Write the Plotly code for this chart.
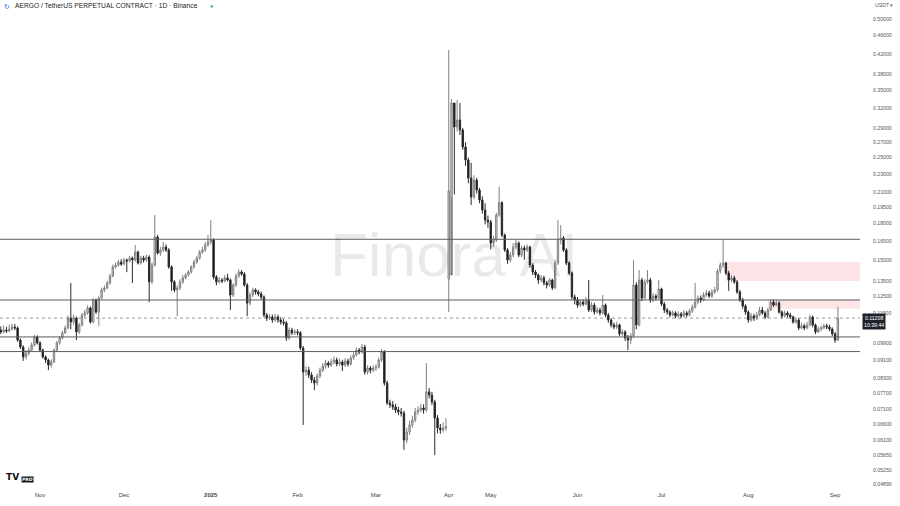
import numpy as np
import pandas as pd
import plotly.graph_objects as go

# ---------------- data ----------------
dates_a = pd.date_range("2024-10-18", "2025-03-26", freq="D")
dates_b = pd.date_range("2025-04-16", "2025-09-02", freq="D")
dates = [d.strftime("%Y-%m-%d") for d in list(dates_a) + list(dates_b)]

closes = [
    0.1046, 0.1056, 0.1051, 0.1061, 0.1072, 0.1067, 0.1004, 0.0970, 0.0923, 0.0941,
    0.0955, 0.0980, 0.1020, 0.0990, 0.0955, 0.0923, 0.0909, 0.0886, 0.0900, 0.0955,
    0.0990, 0.1015, 0.1041, 0.1067, 0.1121, 0.1099, 0.1121, 0.1046, 0.1083, 0.1138,
    0.1150, 0.1179, 0.1099, 0.1227, 0.1155, 0.1239, 0.1290, 0.1303, 0.1336, 0.1383,
    0.1447, 0.1461, 0.1483, 0.1468, 0.1498, 0.1491, 0.1513, 0.1498, 0.1559, 0.1476,
    0.1513, 0.1498, 0.1521, 0.1343, 0.1461, 0.1681, 0.1551, 0.1575, 0.1599, 0.1575,
    0.1447, 0.1343, 0.1290, 0.1303, 0.1343, 0.1370, 0.1390, 0.1411, 0.1447, 0.1483,
    0.1513, 0.1559, 0.1575, 0.1615, 0.1640, 0.1656, 0.1376, 0.1343, 0.1356, 0.1349,
    0.1370, 0.1356, 0.1258, 0.1322, 0.1383, 0.1411, 0.1397, 0.1322, 0.1208, 0.1258,
    0.1290, 0.1277, 0.1264, 0.1245, 0.1138, 0.1121, 0.1127, 0.1110, 0.1127, 0.1110,
    0.1099, 0.1094, 0.1015, 0.1056, 0.1041, 0.1046, 0.1041, 0.0965, 0.0856, 0.0864,
    0.0843, 0.0822, 0.0810, 0.0839, 0.0864, 0.0882, 0.0895, 0.0886, 0.0900, 0.0909,
    0.0891, 0.0900, 0.0886, 0.0904, 0.0891, 0.0918, 0.0932, 0.0955, 0.0946, 0.0970,
    0.0856, 0.0873, 0.0864, 0.0873, 0.0877, 0.0909, 0.0946, 0.0810, 0.0733, 0.0726,
    0.0719, 0.0708, 0.0701, 0.0697, 0.0609, 0.0634, 0.0657, 0.0673, 0.0701, 0.0708,
    0.0715, 0.0708, 0.0775, 0.0763, 0.0737, 0.0680, 0.0647, 0.0641, 0.0647, 0.0651,
    # second segment (from 2025-04-16)
    0.2117, 0.3285, 0.2914, 0.3018, 0.2870, 0.2637, 0.2470, 0.2257, 0.2053, 0.2235,
    0.2126, 0.2022, 0.1924, 0.1830, 0.1812, 0.1631, 0.1656, 0.1876, 0.1996, 0.1698,
    0.1575, 0.1498, 0.1536, 0.1599, 0.1631, 0.1536, 0.1591, 0.1575, 0.1599, 0.1461,
    0.1411, 0.1390, 0.1356, 0.1370, 0.1336, 0.1322, 0.1356, 0.1303, 0.1476, 0.1656,
    0.1673, 0.1575, 0.1476, 0.1404, 0.1245, 0.1227, 0.1196, 0.1214, 0.1202, 0.1227,
    0.1167, 0.1196, 0.1155, 0.1167, 0.1150, 0.1196, 0.1138, 0.1110, 0.1083, 0.1072,
    0.1083, 0.1036, 0.1046, 0.1015, 0.1004, 0.1025, 0.1322, 0.1083, 0.1356, 0.1239,
    0.1343, 0.1356, 0.1227, 0.1251, 0.1239, 0.1296, 0.1202, 0.1167, 0.1155, 0.1138,
    0.1150, 0.1132, 0.1144, 0.1132, 0.1150, 0.1138, 0.1161, 0.1184, 0.1214, 0.1239,
    0.1227, 0.1258, 0.1270, 0.1251, 0.1277, 0.1290, 0.1418, 0.1461, 0.1476, 0.1404,
    0.1356, 0.1370, 0.1343, 0.1277, 0.1227, 0.1190, 0.1155, 0.1110, 0.1132, 0.1121,
    0.1138, 0.1167, 0.1150, 0.1127, 0.1167, 0.1214, 0.1196, 0.1208, 0.1155, 0.1132,
    0.1150, 0.1138, 0.1127, 0.1099, 0.1110, 0.1067, 0.1078, 0.1067, 0.1083, 0.1127,
    0.1083, 0.1046, 0.1061, 0.1067, 0.1078, 0.1072, 0.1061, 0.1036, 0.1004, 0.11208,
]

highs = [
    0.1075, 0.1080, 0.1072, 0.1085, 0.1090, 0.1088, 0.1075, 0.1012, 0.0978, 0.0955,
    0.0968, 0.0992, 0.1030, 0.1028, 0.0998, 0.0962, 0.0930, 0.0915, 0.0912, 0.0962,
    0.1000, 0.1025, 0.1052, 0.1080, 0.1135, 0.1336, 0.1140, 0.1130, 0.1095, 0.1150,
    0.1168, 0.1195, 0.1188, 0.1240, 0.1235, 0.1250, 0.1305, 0.1320, 0.1350, 0.1400,
    0.1465, 0.1480, 0.1500, 0.1505, 0.1515, 0.1510, 0.1530, 0.1525, 0.1615, 0.1570,
    0.1530, 0.1530, 0.1540, 0.1535, 0.1480, 0.1876, 0.1700, 0.1600, 0.1640, 0.1620,
    0.1590, 0.1460, 0.1355, 0.1320, 0.1360, 0.1390, 0.1405, 0.1425, 0.1460, 0.1500,
    0.1530, 0.1575, 0.1600, 0.1640, 0.1700, 0.1830, 0.1670, 0.1390, 0.1375, 0.1370,
    0.1390, 0.1400, 0.1365, 0.1335, 0.1400, 0.1430, 0.1425, 0.1410, 0.1335, 0.1275,
    0.1305, 0.1300, 0.1290, 0.1280, 0.1255, 0.1150, 0.1145, 0.1140, 0.1145, 0.1140,
    0.1125, 0.1115, 0.1105, 0.1070, 0.1068, 0.1060, 0.1060, 0.1050, 0.0975, 0.0880,
    0.0878, 0.0855, 0.0835, 0.0850, 0.0875, 0.0895, 0.0910, 0.0905, 0.0915, 0.0925,
    0.0920, 0.0915, 0.0910, 0.0918, 0.0915, 0.0930, 0.0945, 0.0968, 0.0965, 0.0985,
    0.0980, 0.0885, 0.0882, 0.0885, 0.0890, 0.0920, 0.0960, 0.0955, 0.0820, 0.0745,
    0.0740, 0.0730, 0.0720, 0.0715, 0.0705, 0.0648, 0.0670, 0.0688, 0.0715, 0.0722,
    0.0730, 0.0728, 0.0895, 0.0790, 0.0775, 0.0745, 0.0690, 0.0660, 0.0665, 0.0680,
    # second segment
    0.4280, 0.3350, 0.3000, 0.3335, 0.3285, 0.2900, 0.2700, 0.2500, 0.2436, 0.2290,
    0.2260, 0.2150, 0.2060, 0.1990, 0.1870, 0.1830, 0.1690, 0.1900, 0.2160, 0.2010,
    0.1710, 0.1590, 0.1560, 0.1630, 0.1656, 0.1645, 0.1610, 0.1610, 0.1620, 0.1610,
    0.1475, 0.1425, 0.1400, 0.1390, 0.1385, 0.1350, 0.1370, 0.1365, 0.1500, 0.1830,
    0.1785, 0.1690, 0.1590, 0.1490, 0.1415, 0.1260, 0.1245, 0.1230, 0.1230, 0.1245,
    0.1356, 0.1215, 0.1210, 0.1185, 0.1180, 0.1258, 0.1205, 0.1150, 0.1120, 0.1095,
    0.1100, 0.1090, 0.1060, 0.1055, 0.1030, 0.1040, 0.1498, 0.1340, 0.1425, 0.1370,
    0.1360, 0.1425, 0.1370, 0.1270, 0.1265, 0.1356, 0.1305, 0.1215, 0.1180, 0.1165,
    0.1165, 0.1160, 0.1160, 0.1155, 0.1165, 0.1160, 0.1175, 0.1200, 0.1336, 0.1255,
    0.1255, 0.1275, 0.1290, 0.1285, 0.1295, 0.1310, 0.1435, 0.1480, 0.1656, 0.1485,
    0.1420, 0.1390, 0.1385, 0.1355, 0.1290, 0.1240, 0.1200, 0.1165, 0.1150, 0.1145,
    0.1155, 0.1185, 0.1185, 0.1160, 0.1180, 0.1230, 0.1230, 0.1225, 0.1220, 0.1165,
    0.1165, 0.1160, 0.1150, 0.1135, 0.1125, 0.1120, 0.1095, 0.1090, 0.1100, 0.1140,
    0.1135, 0.1090, 0.1075, 0.1080, 0.1090, 0.1090, 0.1085, 0.1070, 0.1045, 0.1184,
]

lows = [
    0.1035, 0.1038, 0.1040, 0.1045, 0.1055, 0.1055, 0.0995, 0.0960, 0.0905, 0.0912,
    0.0930, 0.0948, 0.0972, 0.0982, 0.0945, 0.0915, 0.0895, 0.0864, 0.0875, 0.0895,
    0.0948, 0.0982, 0.1008, 0.1035, 0.1060, 0.1060, 0.1085, 0.1004, 0.1035, 0.1075,
    0.1125, 0.1140, 0.1090, 0.1092, 0.1145, 0.1078, 0.1230, 0.1275, 0.1295, 0.1325,
    0.1375, 0.1435, 0.1450, 0.1455, 0.1460, 0.1410, 0.1480, 0.1336, 0.1485, 0.1465,
    0.1465, 0.1480, 0.1485, 0.1214, 0.1330, 0.1450, 0.1540, 0.1530, 0.1560, 0.1560,
    0.1435, 0.1284, 0.1275, 0.1132, 0.1290, 0.1330, 0.1360, 0.1380, 0.1400, 0.1435,
    0.1470, 0.1500, 0.1545, 0.1560, 0.1600, 0.1620, 0.1360, 0.1320, 0.1330, 0.1335,
    0.1340, 0.1345, 0.1167, 0.1245, 0.1310, 0.1370, 0.1385, 0.1310, 0.1132, 0.1195,
    0.1245, 0.1260, 0.1250, 0.1230, 0.1125, 0.1105, 0.1110, 0.1095, 0.1100, 0.1095,
    0.1085, 0.1080, 0.1000, 0.1005, 0.1030, 0.1030, 0.1028, 0.0955, 0.0657, 0.0840,
    0.0830, 0.0810, 0.0782, 0.0800, 0.0830, 0.0855, 0.0870, 0.0875, 0.0878, 0.0890,
    0.0880, 0.0882, 0.0860, 0.0878, 0.0880, 0.0885, 0.0910, 0.0925, 0.0935, 0.0938,
    0.0845, 0.0845, 0.0850, 0.0855, 0.0860, 0.0870, 0.0900, 0.0800, 0.0726, 0.0715,
    0.0708, 0.0697, 0.0690, 0.0685, 0.0580, 0.0600, 0.0625, 0.0648, 0.0665, 0.0690,
    0.0700, 0.0695, 0.0700, 0.0750, 0.0725, 0.0565, 0.0630, 0.0628, 0.0632, 0.0638,
    # second segment
    0.1155, 0.2050, 0.2080, 0.2850, 0.2800, 0.2600, 0.2400, 0.2200, 0.1972, 0.2030,
    0.2090, 0.1990, 0.1890, 0.1790, 0.1760, 0.1580, 0.1600, 0.1640, 0.1860, 0.1680,
    0.1560, 0.1470, 0.1480, 0.1520, 0.1580, 0.1520, 0.1520, 0.1500, 0.1560, 0.1440,
    0.1390, 0.1370, 0.1330, 0.1340, 0.1320, 0.1300, 0.1310, 0.1290, 0.1295, 0.1460,
    0.1620, 0.1560, 0.1460, 0.1390, 0.1230, 0.1200, 0.1180, 0.1185, 0.1190, 0.1195,
    0.1155, 0.1155, 0.1140, 0.1145, 0.1135, 0.1140, 0.1125, 0.1095, 0.1070, 0.1060,
    0.1060, 0.1025, 0.1025, 0.1000, 0.0955, 0.0985, 0.1015, 0.1060, 0.1075, 0.1220,
    0.1230, 0.1330, 0.1210, 0.1215, 0.1225, 0.1230, 0.1190, 0.1150, 0.1140, 0.1125,
    0.1130, 0.1120, 0.1125, 0.1120, 0.1125, 0.1125, 0.1130, 0.1150, 0.1175, 0.1200,
    0.1210, 0.1220, 0.1245, 0.1240, 0.1240, 0.1265, 0.1280, 0.1400, 0.1440, 0.1390,
    0.1284, 0.1340, 0.1330, 0.1265, 0.1215, 0.1175, 0.1140, 0.1095, 0.1100, 0.1105,
    0.1110, 0.1130, 0.1140, 0.1115, 0.1120, 0.1160, 0.1185, 0.1190, 0.1145, 0.1120,
    0.1125, 0.1125, 0.1115, 0.1090, 0.1090, 0.1055, 0.1060, 0.1055, 0.1060, 0.1075,
    0.1070, 0.1035, 0.1040, 0.1050, 0.1060, 0.1060, 0.1050, 0.1025, 0.0990, 0.0998,
]

first_open = 0.1056
gap_opens = {"2025-04-16": 0.1363, "2025-04-17": 0.1390}

level_lines = [0.1662, 0.1227, 0.1020, 0.0948]
current_price = 0.11208
zones = [  # (start date, top, bottom)
    ("2025-07-24", 0.1484, 0.1349),
    ("2025-08-08", 0.1227, 0.1174),
]

tick_prices = [0.50000, 0.46000, 0.42000, 0.38000, 0.35000, 0.32000, 0.29000, 0.27000,
               0.25000, 0.23000, 0.21000, 0.19500, 0.18000, 0.16500, 0.15000, 0.13500,
               0.12500, 0.11500, 0.09900, 0.09100, 0.08300, 0.07700, 0.07100, 0.06600,
               0.06100, 0.05650, 0.05250, 0.04890]
month_ticks = ["2024-11-01", "2024-12-01", "2025-01-01", "2025-02-01", "2025-03-01",
               "2025-04-16", "2025-05-01", "2025-06-01", "2025-07-01", "2025-08-01",
               "2025-09-01"]
month_labels = ["Nov", "Dec", "<b>2025</b>", "Feb", "Mar", "Apr", "May", "Jun", "Jul",
                "Aug", "Sep"]

# opens: previous close, except where the chart gaps
opens = [first_open] + closes[:-1]
for i, d in enumerate(dates):
    if d in gap_opens:
        opens[i] = gap_opens[d]

# ---------------- figure ----------------
FONT = "Liberation Sans"
fig = go.Figure()
fig.add_trace(go.Candlestick(
    x=dates, open=opens, high=highs, low=lows, close=closes,
    increasing=dict(fillcolor="#dcdcdc", line=dict(color="#808080", width=1)),
    decreasing=dict(fillcolor="#111111", line=dict(color="#2a2a2a", width=1)),
    whiskerwidth=0, showlegend=False, hoverinfo="skip",
))

x_lo, x_hi = -0.29, 306.9
shapes = []
for d0, top, bot in zones:
    shapes.append(dict(type="rect", xref="x", yref="y", x0=dates.index(d0), x1=x_hi,
                       y0=bot, y1=top, fillcolor="rgba(242,54,69,0.13)",
                       line=dict(width=0), layer="below"))
for lv in level_lines:
    shapes.append(dict(type="line", xref="paper", yref="y", x0=0, x1=1, y0=lv, y1=lv,
                       line=dict(color="#5d5d5d", width=1), layer="above"))
shapes.append(dict(type="line", xref="paper", yref="y", x0=0, x1=1,
                   y0=current_price, y1=current_price,
                   line=dict(color="#9a9a9a", width=1, dash="dot"), layer="below"))

annotations = [
    dict(text="Finora AI", xref="paper", yref="paper", x=0.528, y=0.48,
         showarrow=False, font=dict(family="Liberation Sans", size=62,
                                    color="rgba(0,0,0,0.085)")),
    dict(text="AERGO / TetherUS PERPETUAL CONTRACT · 1D · Binance", xref="paper",
         yref="paper", x=0.0155, y=0.999, xanchor="left", yanchor="top",
         showarrow=False, font=dict(family=FONT, size=6.7, color="#222")),
    dict(text="●", xref="paper", yref="paper", x=0.2455, y=0.999, xanchor="center",
         yanchor="top", showarrow=False, font=dict(size=5.5, color="#22ab94")),
    dict(text="↻", xref="paper", yref="paper", x=0.002, y=1.0, xanchor="left",
         yanchor="top", showarrow=False, font=dict(size=7, color="#2962ff")),
    dict(text="USDT ▾", xref="paper", yref="paper", x=1.0, y=1.0, xanchor="left",
         yanchor="top", xshift=13, showarrow=False,
         font=dict(family=FONT, size=5.2, color="#555")),
    dict(text=f"{current_price:.5f}<br>10:39:44", xref="paper", yref="y", x=1.0,
         y=np.log10(current_price), xanchor="left", yanchor="middle", xshift=2,
         yshift=-3, showarrow=False, bgcolor="#1e222d", borderpad=1,
         font=dict(family=FONT, size=5.2, color="#ffffff")),
    dict(text="<b>TV</b>", xref="paper", yref="paper", x=0.005, y=0.013,
         xanchor="left", yanchor="bottom", showarrow=False,
         font=dict(family="DejaVu Sans", size=9, color="#111")),
    dict(text="<b><i>PRO</i></b>", xref="paper", yref="paper", x=0.024, y=0.015,
         xanchor="left", yanchor="bottom", showarrow=False, bgcolor="#111",
         borderpad=0, font=dict(family="DejaVu Sans", size=4.5, color="#fff")),
]

fig.update_layout(
    width=900, height=506,
    margin=dict(l=0, r=40, t=0, b=16),
    paper_bgcolor="#ffffff", plot_bgcolor="#ffffff",
    shapes=shapes, annotations=annotations,
    xaxis=dict(type="category", range=[x_lo, x_hi], rangeslider=dict(visible=False),
               showgrid=False, zeroline=False, showline=False, ticks="",
               tickmode="array", tickvals=month_ticks, ticktext=month_labels,
               tickfont=dict(family=FONT, size=6, color="#444"), tickangle=0,
               fixedrange=True),
    yaxis=dict(type="log", side="right",
               range=[np.log10(0.04745), np.log10(0.5498)],
               showgrid=False, zeroline=False, showline=False, ticks="",
               tickmode="array", tickvals=tick_prices,
               ticktext=[f"{p:.5f}" for p in tick_prices],
               tickfont=dict(family=FONT, size=5.2, color="#555"),
               ticklabelstandoff=12, fixedrange=True),
)

fig.write_html("out.html", config={"displayModeBar": False},
               post_script="document.body.style.margin='0';")
